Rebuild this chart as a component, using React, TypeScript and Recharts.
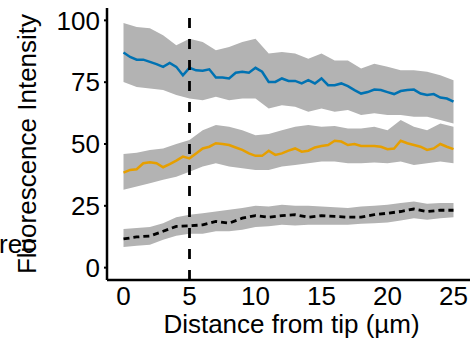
import React from 'react';
import {
    ComposedChart,
    Area,
    Line,
    XAxis,
    YAxis,
    ReferenceLine,
} from 'recharts';

// distances (µm) for the fine-grained mean traces
const distFine = [
    0, 0.5, 1, 1.5, 2, 2.5, 3, 3.5, 4, 4.5, 5, 5.5, 6, 6.5, 7, 7.5, 8, 8.5, 9, 9.5,
    10, 10.5, 11, 11.5, 12, 12.5, 13, 13.5, 14, 14.5, 15, 15.5, 16, 16.5, 17, 17.5,
    18, 18.5, 19, 19.5, 20, 20.5, 21, 21.5, 22, 22.5, 23, 23.5, 24, 24.5, 25,
];
// distances (µm) for the bands and the dashed trace
const distCoarse = [
    0, 1, 2, 3, 4, 5, 6, 7, 8, 9, 10, 11, 12, 13, 14, 15, 16, 17, 18, 19, 20, 21, 22, 23, 24, 25,
];

const blueMean = [
    87.0, 85.2, 84.1, 84.1, 83.2, 82.3, 81.2, 82.8, 81.2, 77.8, 80.8, 79.8, 79.6, 80.2, 76.9, 76.9,
    76.5, 78.8, 79.2, 78.8, 80.8, 79.2, 75.1, 75.1, 76.5, 75.5, 75.5, 74.5, 75.8, 74.5, 76.5, 73.8,
    73.8, 74.5, 73.4, 71.8, 70.4, 71.0, 72.0, 71.8, 71.0, 70.2, 71.4, 71.8, 72.0, 70.4, 69.8, 70.2,
    68.8, 68.4, 67.1,
];
const orangeMean = [
    38.4, 39.5, 39.8, 42.2, 42.6, 42.2, 40.6, 41.9, 43.3, 44.9, 44.2, 46.2, 48.2, 48.9, 50.3, 50.0,
    49.6, 48.6, 47.6, 46.2, 45.2, 45.2, 47.3, 45.6, 46.2, 47.3, 48.2, 46.9, 47.3, 48.6, 49.2, 49.6,
    51.3, 51.0, 49.6, 50.0, 49.2, 49.2, 49.2, 48.9, 47.9, 48.2, 51.3, 50.3, 49.6, 48.9, 47.6, 48.2,
    50.0, 48.9, 47.9,
];
const blackMean = [
    11.6, 12.4, 12.8, 14.7, 16.7, 16.9, 17.3, 18.7, 18.0, 20.0, 21.0, 20.4, 21.0, 21.4, 20.4, 21.0,
    20.7, 20.4, 20.4, 21.4, 22.0, 22.7, 23.7, 22.7, 23.2, 23.2,
];

const blueHi = [
    98.9, 97.3, 96.8, 94.0, 89.9, 92.6, 91.3, 87.9, 89.2, 91.3, 92.6, 86.6, 87.2, 86.6, 84.5, 86.6,
    83.8, 83.8, 80.5, 82.5, 81.2, 79.8, 79.8, 79.2, 77.8, 75.8,
];
const blueLo = [
    75.1, 73.1, 72.4, 71.8, 69.8, 68.4, 67.7, 69.1, 67.7, 68.4, 68.4, 64.4, 65.7, 65.1, 63.0, 64.4,
    63.0, 63.7, 61.7, 62.4, 61.7, 61.7, 61.0, 61.0, 59.7, 58.3,
];
const orangeHi = [
    46.0, 46.5, 47.6, 48.2, 50.0, 51.6, 55.6, 57.7, 57.0, 55.6, 53.5, 54.0, 55.6, 57.0, 57.7, 57.0,
    57.3, 56.3, 56.3, 57.0, 55.6, 59.7, 57.0, 55.6, 58.3, 57.0,
];
const orangeLo = [
    31.5, 32.8, 34.1, 35.5, 36.8, 38.8, 40.9, 42.2, 40.9, 40.2, 39.5, 39.5, 40.9, 41.5, 42.2, 42.9,
    42.9, 42.2, 42.2, 42.5, 42.2, 42.9, 41.5, 42.2, 42.9, 42.2,
];
const blackHi = [
    15.6, 16.0, 16.4, 18.0, 20.4, 21.4, 22.0, 22.7, 23.4, 24.1, 25.0, 24.7, 25.4, 25.0, 25.0, 24.7,
    24.4, 24.1, 24.7, 25.0, 25.4, 26.1, 26.7, 25.8, 26.1, 26.1,
];
const blackLo = [
    8.3, 8.9, 9.3, 11.3, 12.9, 13.7, 13.7, 14.7, 14.7, 15.3, 16.4, 16.7, 17.3, 17.0, 17.3, 17.3,
    17.3, 17.3, 17.7, 18.0, 18.3, 19.1, 20.0, 19.4, 20.0, 20.4,
];

const xTicks = [0, 5, 10, 15, 20, 25];
const yTicks = [0, 25, 50, 75, 100];

const FONT = '"Liberation Sans", Arial, Helvetica, sans-serif';
const BAND = '#B3B3B3';

const fine = (vals: number[]) => distFine.map((d, i) => ({ d, v: vals[i] }));
const coarse = (vals: number[]) => distCoarse.map((d, i) => ({ d, v: vals[i] }));
const band = (lo: number[], hi: number[]) =>
    distCoarse.map((d, i) => ({ d, r: [lo[i], hi[i]] }));

export default function App() {
    return (
        <div style={{ position: 'absolute', left: 0, top: 0, width: 470, height: 343, background: '#fff' }}>
            <ComposedChart
                width={470}
                height={343}
                margin={{ top: 8, right: 0, left: 0, bottom: 0 }}
                style={{ fontFamily: FONT }}
            >
                <XAxis
                    dataKey="d"
                    type="number"
                    domain={[-1.25, 26.25]}
                    ticks={xTicks}
                    allowDataOverflow
                    height={63}
                    tickLine={false}
                    tickSize={4}
                    tickMargin={3}
                    axisLine={{ stroke: '#000', strokeWidth: 2.5 }}
                    tick={{ fill: '#000', fontSize: 26, fontFamily: FONT }}
                    label={{
                        content: ({ viewBox }: any) => (
                            <text
                                x={viewBox.x + viewBox.width / 2 + 3}
                                y={viewBox.y + 53}
                                textAnchor="middle"
                                fontSize={26}
                                fontFamily={FONT}
                                fill="#000"
                            >
                                Distance from tip (µm)
                            </text>
                        ),
                    }}
                />
                <YAxis
                    type="number"
                    domain={[-5, 105]}
                    ticks={yTicks}
                    allowDataOverflow
                    width={107}
                    tickSize={3}
                    tickMargin={4}
                    tickLine={{ stroke: '#000', strokeWidth: 2 }}
                    axisLine={{ stroke: '#000', strokeWidth: 2.5 }}
                    tick={{ fill: '#000', fontSize: 26, fontFamily: FONT }}
                    label={{
                        content: ({ viewBox }: any) => {
                            const cy = viewBox.y + viewBox.height / 2;
                            return (
                                <g>
                                    <text x={-1} y={253} fontSize={26} fontFamily={FONT} fill="#000">
                                        rec
                                    </text>
                                    <text
                                        x={36}
                                        y={cy}
                                        transform={`rotate(-90, 36, ${cy})`}
                                        textAnchor="middle"
                                        fontSize={26}
                                        fontFamily={FONT}
                                        fill="#000"
                                    >
                                        Fluorescence Intensity
                                    </text>
                                </g>
                            );
                        },
                    }}
                />

                <Area data={band(blueLo, blueHi)} dataKey="r" type="linear" stroke="none" fill={BAND} fillOpacity={1} isAnimationActive={false} />
                <Area data={band(orangeLo, orangeHi)} dataKey="r" type="linear" stroke="none" fill={BAND} fillOpacity={1} isAnimationActive={false} />
                <Area data={band(blackLo, blackHi)} dataKey="r" type="linear" stroke="none" fill={BAND} fillOpacity={1} isAnimationActive={false} />

                <Line data={fine(blueMean)} dataKey="v" type="linear" stroke="#0072B2" strokeWidth={2.5} dot={false} isAnimationActive={false} />
                <Line data={fine(orangeMean)} dataKey="v" type="linear" stroke="#E69F00" strokeWidth={2.5} dot={false} isAnimationActive={false} />
                <Line
                    data={coarse(blackMean)}
                    dataKey="v"
                    type="linear"
                    stroke="#000"
                    strokeWidth={2.8}
                    strokeDasharray="6 4"
                    dot={false}
                    isAnimationActive={false}
                />

                <ReferenceLine x={5} stroke="#000" strokeWidth={2.8} strokeDasharray="10 11" />
            </ComposedChart>
        </div>
    );
}
